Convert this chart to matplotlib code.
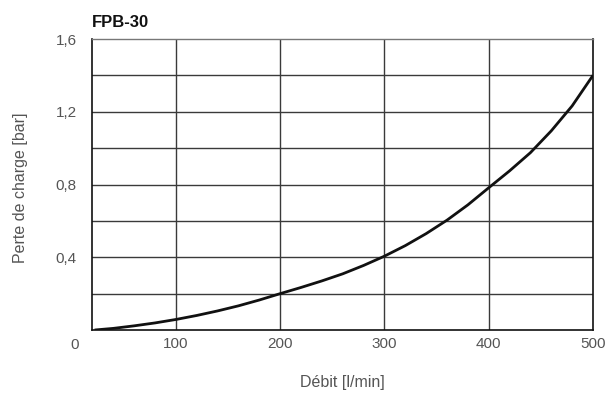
import matplotlib
matplotlib.use("Agg")
import matplotlib.pyplot as plt
import matplotlib.transforms as mtransforms

plt.rcParams['font.family'] = ['Liberation Sans', 'DejaVu Sans']

title = "FPB-30"
x_label = "Débit [l/min]"
y_label = "Perte de charge [bar]"

flow = [22, 40, 60, 80, 100, 120, 140, 160, 180, 200, 220, 240, 260, 280,
        300, 320, 340, 360, 380, 400, 420, 440, 460, 480, 500]
pressure = [0.0, 0.009, 0.023, 0.039, 0.058, 0.08, 0.105, 0.133, 0.165, 0.2,
            0.234, 0.27, 0.309, 0.355, 0.406, 0.464, 0.53, 0.604, 0.688,
            0.782, 0.875, 0.975, 1.095, 1.232, 1.4]

x_ticks = [100, 200, 300, 400, 500]
x_tick_labels = ["100", "200", "300", "400", "500"]
y_ticks = [0.4, 0.8, 1.2, 1.6]
y_tick_labels = ["0,4", "0,8", "1,2", "1,6"]
x_grid = [100, 200, 300, 400]
y_grid = [0.2, 0.4, 0.6, 0.8, 1.0, 1.2, 1.4]

fig = plt.figure(figsize=(6.06, 3.94), dpi=100)
ax = fig.add_axes([0.1518, 0.1624, 0.8267, 0.7386])
ax.set_xlim(19.5, 500)
ax.set_ylim(0, 1.6)

grid_color = '#3a3a3a'
for gx in x_grid:
    ax.axvline(gx, color=grid_color, lw=1.0, zorder=1)
for gy in y_grid:
    ax.axhline(gy, color=grid_color, lw=1.0, zorder=1)

ax.plot(flow, pressure, color='#111111', lw=2.0, zorder=3,
        solid_capstyle='butt', solid_joinstyle='round')

for side in ['left', 'bottom', 'right']:
    ax.spines[side].set_color('#111111')
    ax.spines[side].set_linewidth(1.2)
ax.spines['top'].set_color('#777777')
ax.spines['top'].set_linewidth(1.0)

text_color = '#555555'
ax.set_xticks(x_ticks)
ax.set_xticklabels(x_tick_labels)
ax.set_yticks(y_ticks)
ax.set_yticklabels(y_tick_labels)
ax.tick_params(axis='both', length=0, labelsize=11, colors=text_color)
ax.tick_params(axis='x', pad=5)
ax.tick_params(axis='y', pad=11)

trans = mtransforms.blended_transform_factory(ax.transData, ax.transAxes)
ax.text(3, -0.0275, "0", transform=trans, ha='center', va='top',
        fontsize=11, color=text_color, clip_on=False)

ax.text(0.499, -0.182, x_label, transform=ax.transAxes, ha='center',
        va='center', fontsize=11.5, color=text_color)
ax.text(-0.143, 0.488, y_label, transform=ax.transAxes, ha='center',
        va='center', rotation=90, fontsize=11.5, color=text_color)

ax.text(0.0, 1.03, title, transform=ax.transAxes, ha='left', va='bottom',
        fontsize=12, fontweight='bold', color='#111111')

fig.savefig("out.png", dpi=100)
